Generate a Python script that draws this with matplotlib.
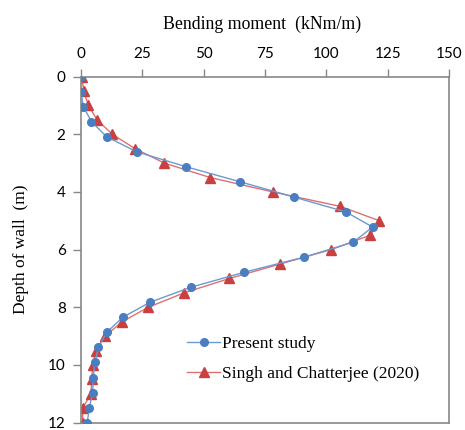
import matplotlib
matplotlib.use("Agg")
import matplotlib.pyplot as plt
import numpy as np

# Present study: depths at 12/23 m spacing
present_depth = np.arange(24) * 12 / 23
present_moment = [0, 0, 1.0, 4.3, 10.5, 22.7, 43, 65, 86.6, 108, 118.8, 111,
                  90.9, 66.6, 44.8, 28.1, 17, 10.5, 7.1, 5.7, 5.0, 4.8, 3.4, 2.6]

# Singh and Chatterjee (2020): 0.5 m spacing
singh_depth = np.arange(25) * 0.5
singh_moment = [0.3, 1.2, 3.0, 6.6, 12.8, 22, 34, 52.6, 78.1, 105.6, 121.6, 117.8,
                101.9, 81.1, 60.5, 42, 27.4, 16.8, 9.8, 6.1, 4.8, 4.4, 4.1, 0.7, 0.7]

x_ticks = [0, 25, 50, 75, 100, 125, 150]
y_ticks = [0, 2, 4, 6, 8, 10, 12]

plt.rcParams['font.family'] = ['Liberation Serif', 'DejaVu Serif']

fig = plt.figure(figsize=(4.65, 4.3), dpi=100)
ax = fig.add_axes([0.174, 0.017, 0.792, 0.805])

ax.plot(present_moment, present_depth, color='#6a9ad4', lw=1.0, marker='o',
        ms=5.5, mfc='#4a7ec0', mec='#4a7ec0', label='Present study', zorder=3)
ax.plot(singh_moment, singh_depth, color='#e07070', lw=1.0, marker='^',
        ms=6.5, mfc='#c8403f', mec='#c8403f', label='Singh and Chatterjee (2020)', zorder=2)

ax.set_xlim(0, 150)
ax.set_ylim(12, 0)
ax.set_xticks(x_ticks)
ax.set_yticks(y_ticks)
ax.xaxis.tick_top()
ax.xaxis.set_label_position('top')
ax.set_xlabel('Bending moment  (kNm/m)', fontsize=12.8)
ax.set_ylabel('Depth of wall  (m)', fontsize=12.5)
ax.xaxis.set_label_coords(0.492, 1.138)
ax.yaxis.set_label_coords(-0.142, 0.5)
ax.tick_params(labelsize=11, color='#888888', length=6, width=1, pad=5)
for lab in ax.get_xticklabels() + ax.get_yticklabels():
    lab.set_family(['Lato', 'DejaVu Sans'])
for s in ax.spines.values():
    s.set_color('#888888')
    s.set_linewidth(1.2)

ax.legend(loc='upper left', bbox_to_anchor=(0.27, 0.27), frameon=False,
          fontsize=12.5, handlelength=1.9, handletextpad=0.1, labelspacing=0.8,
          borderaxespad=0)

fig.savefig('out.png', dpi=100)
